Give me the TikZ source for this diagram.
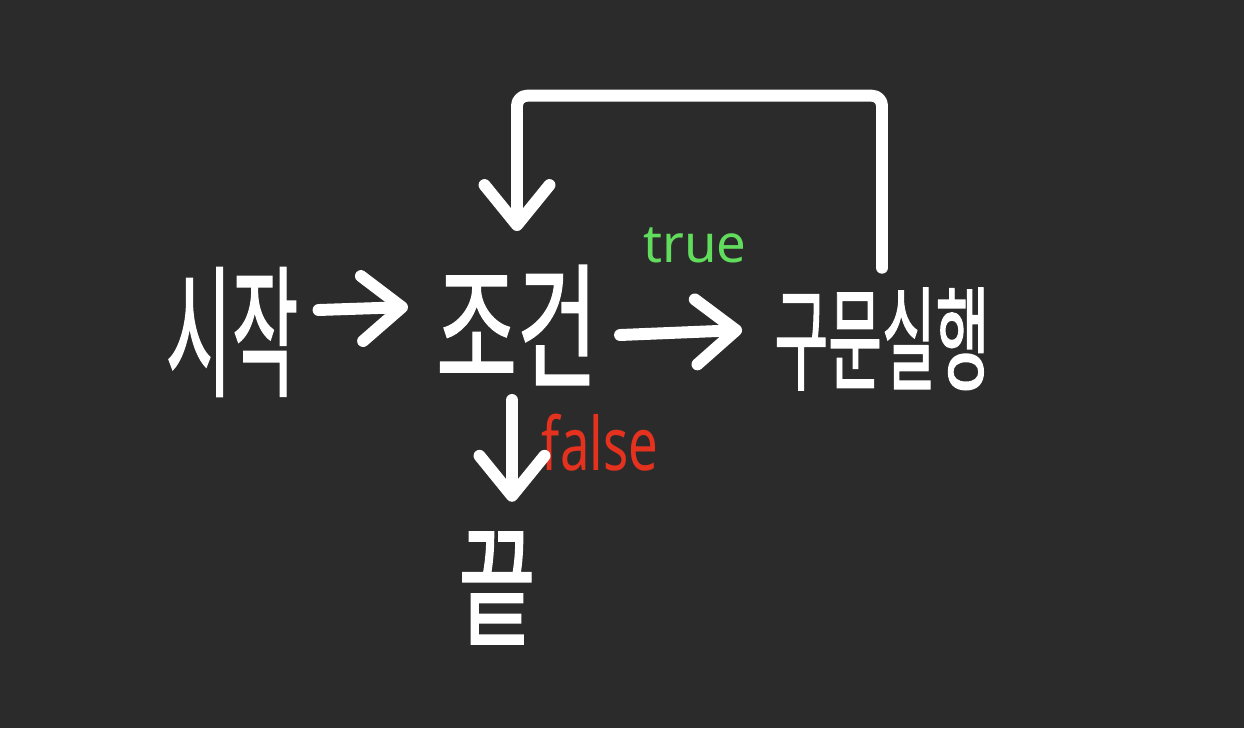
\documentclass[tikz,border=0pt]{standalone}
\usepackage{fontspec}
\usepackage{graphicx}
\usetikzlibrary{arrows.meta,positioning,calc}
\newfontfamily\kr[FakeBold=1.6]{Noto Sans CJK KR}
\newfontfamily\hw{Noto Sans}
\definecolor{board}{HTML}{2B2B2B}
\definecolor{truegreen}{HTML}{62DC5C}
\definecolor{falsered}{HTML}{E5321F}

\begin{document}
\begin{tikzpicture}[x=0.02cm, y=-0.02cm,
     word/.style = {text=white, inner sep=0pt, font=\kr\fontsize{64}{64}\selectfont},
     tag/.style = {inner sep=0pt, font=\hw\fontsize{30}{30}\selectfont},
     stroke/.style = {draw=white, line width=6.8pt, line cap=round, line join=round},
     arrow/.style = {stroke, -{Straight Barb[length=0.8cm, width=1.3cm, line cap=round, line join=round]}}
    ]
    \fill[board] (0,0) rectangle (1244,728);
    \useasboundingbox (0,0) rectangle (1244,728);

    \node [word] (start) at (232,332) {\scalebox{0.64}[1.26]{시작}};
    \node [word] (cond) at (517,325) {\scalebox{0.78}[1.2]{조건}};
    \node [word] (exec) at (882,339) {\scalebox{0.52}[1.0]{구문실행}};
    \node [word] (stop) at (497,588) {\scalebox{0.74}[1.16]{끝}};
    \node [tag, text=truegreen] (yes) at (695,245) {true};
    \node [tag, text=falsered] (no) at (600,443) {\scalebox{1}[1.4]{false}};

    \draw[arrow] ([shift={(20,-22)}]start.east) -- ([shift={(-28,-18)}]cond.west);
    \draw[arrow] ([shift={(22,10)}]cond.east) -- ([shift={(-32,-9)}]exec.west);
    \draw[arrow, rounded corners=0.2cm] ([shift={(0,-20)}]exec.north) -- ++(0,-172) -| ([shift={(0,-34)}]cond.north);
    \draw[arrow] ([shift={(-5,15)}]cond.south) -- ([shift={(15,-30)}]stop.north);
\end{tikzpicture}
\end{document}
